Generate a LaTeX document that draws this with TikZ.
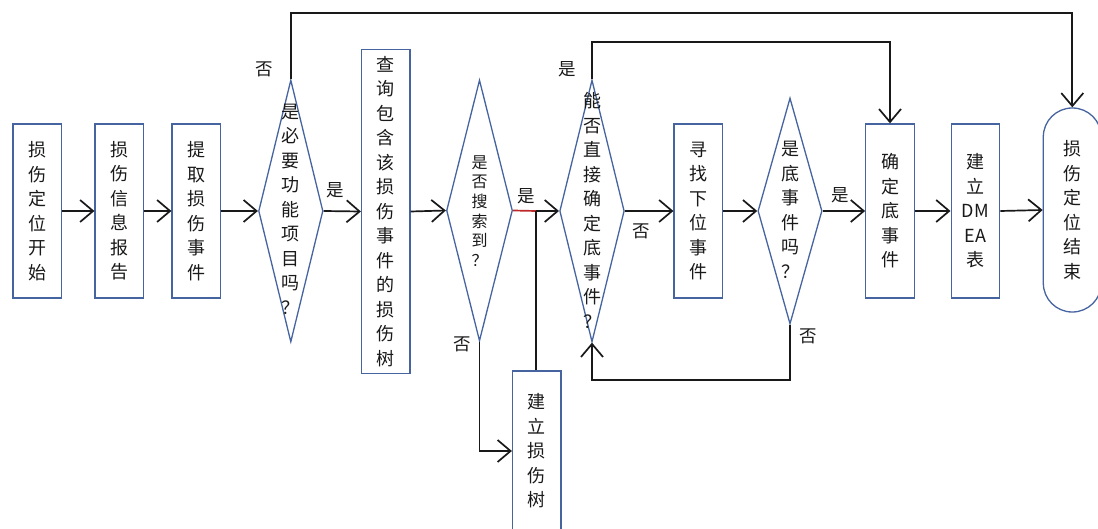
\documentclass[tikz,border=0pt]{standalone}
\usepackage{fontspec}
\newfontfamily\cjk{Noto Sans CJK SC}
\usetikzlibrary{shapes.geometric,arrows.meta}
\definecolor{boxblue}{RGB}{70,100,160}
\definecolor{ink}{RGB}{25,25,25}
\tikzset{
  stepbox/.style={draw=boxblue,line width=1.3pt,rectangle,inner sep=0pt,minimum width=48.5,minimum height=174},
  dia/.style={draw=boxblue,line width=1.3pt,diamond,inner sep=0pt},
  vt/.style={align=center,text=ink,font=\cjk\fontsize{18}{24.5}\selectfont,inner sep=0pt},
  vts/.style={align=center,text=ink,font=\cjk\fontsize{16}{19.6}\selectfont,inner sep=0pt},
  lbl/.style={text=ink,font=\cjk\fontsize{17.5}{17.5}\selectfont,inner sep=0pt},
  conn/.style={draw=ink,line width=1.7pt},
  arr/.style={conn,-{Straight Barb[length=13pt,width=22pt,line width=1.7pt]}},
}
\begin{document}
\begin{tikzpicture}[x=1pt,y=-1pt]
\useasboundingbox (0,0) rectangle (1098,529);
\fill[white] (0,0) rectangle (1098,529);
% boxes
\node[stepbox] (b1) at (37.2,211) {};
\node[vt] (b1t) at (b1) {损\\伤\\定\\位\\开\\始};
\node[stepbox] (b2) at (119.3,211) {};
\node[vt] (b2t) at (b2) {损\\伤\\信\\息\\报\\告};
\node[stepbox] (b3) at (196.3,211) {};
\node[vt] (b3t) at (b3) {提\\取\\损\\伤\\事\\件};
\node[dia,minimum width=64.5,minimum height=262] (d1) at (290.8,211) {};
\node[vt] (d1t) at (290.8,209) {是\\必\\要\\功\\能\\项\\目\\吗\\？};
\node[stepbox,minimum height=324] (b4) at (385.8,211.5) {};
\node[vt] (b4t) at (b4) {查\\询\\包\\含\\该\\损\\伤\\事\\件\\的\\损\\伤\\树};
\node[dia,minimum width=66,minimum height=261] (d2) at (479.5,210.5) {};
\node[vts] (d2t) at (479.5,211) {是\\否\\搜\\索\\到\\？};
\node[stepbox,minimum height=160] (b5) at (536.8,451) {};
\node[vt] (b5t) at (b5) {建\\立\\损\\伤\\树};
\node[dia,minimum width=64.7,minimum height=262] (d3) at (592,211) {};
\node[vt] (d3t) at (592,210.5) {能\\否\\直\\接\\确\\定\\底\\事\\件\\？};
\node[stepbox] (b6) at (698.3,211) {};
\node[vt] (b6t) at (b6) {寻\\找\\下\\位\\事\\件};
\node[dia,minimum width=64.2,minimum height=226] (d4) at (790,211) {};
\node[vt] (d4t) at (790,210) {是\\底\\事\\件\\吗\\？};
\node[stepbox] (b7) at (890,211) {};
\node[vt] (b7t) at (b7) {确\\定\\底\\事\\件};
\node[stepbox] (b8) at (975.4,211) {};
\node[vt] (b8t) at (b8) {建\\立\\DM\\EA\\表};
\node[draw=boxblue,line width=1.3pt,rectangle,rounded corners=28.9pt,inner sep=0pt,minimum width=58,minimum height=204] (e) at (1072.3,210) {};
\node[vt] (et) at (e) {损\\伤\\定\\位\\结\\束};
% labels
\node[lbl] (l1) at (264,69) {否};
\node[lbl] (l2) at (335,190) {是};
\node[lbl] (l3) at (526,196) {是};
\node[lbl] (l4) at (462,344) {否};
\node[lbl] (l5) at (567,69) {是};
\node[lbl] (l6) at (641,231) {否};
\node[lbl] (l7) at (840,195) {是};
\node[lbl] (l8) at (808,336) {否};
% connectors
\coordinate (j) at (536,211);
\draw[arr] (b1.east) -- (b2.west);
\draw[arr] (b2.east) -- (b3.west);
\draw[arr] (b3.east) -- (d1.west);
\draw[arr] (d1.east) -- (b4.west);
\draw[arr] (b4.east) -- (d2.west);
\draw[line width=1.7pt,draw={rgb,255:red,190;green,40;blue,40}] (d2.east) -- (j);
\draw[arr] (j) -- (d3.west);
\draw[conn] (j |- b5.north) -- (j);
\draw[arr] (d2.south) |- (b5.west);
\draw[arr] (d1.north) -- ++(0,-66.5) -| (e.north);
\draw[arr] (d3.north) -- ++(0,-37) -| (b7.north);
\draw[arr] (d3.east) -- (b6.west);
\draw[arr] (b6.east) -- (d4.west);
\draw[arr] (d4.east) -- (b7.west);
\draw[arr] (b7.east) -- (b8.west);
\draw[arr] (b8.east) -- (e.west);
\draw[arr] (d4.south) -- ++(0,55.5) -| (d3.south);
\end{tikzpicture}
\end{document}
